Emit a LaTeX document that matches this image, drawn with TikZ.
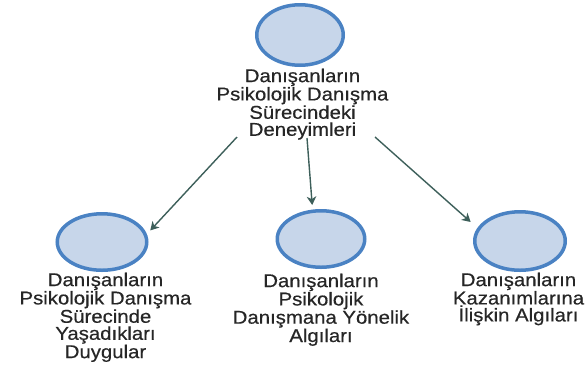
\documentclass[tikz,border=0pt]{standalone}
\usepackage{fontspec}
\setmainfont{Liberation Sans}[FakeStretch=1.1,FakeBold=0.5]
\usetikzlibrary{shapes.geometric,arrows.meta}
\definecolor{ringblue}{HTML}{4A82C3}
\definecolor{fillblue}{HTML}{C7D6EA}
\definecolor{linkgreen}{HTML}{3D5F5A}
\definecolor{labelgray}{HTML}{262626}
\begin{document}
\begin{tikzpicture}[x=1pt,y=-1pt,
  bubble/.style={ellipse, draw=ringblue, fill=fillblue, line width=3.5pt, inner sep=0pt},
  caption/.style={anchor=north, align=center, inner sep=0pt, text=labelgray,
    font=\fontsize{18.5}{17}\selectfont},
  link/.style={draw=linkgreen, line width=1.4pt,
    -{Stealth[length=8.5pt,width=9.5pt,inset=2.5pt]}}]
  \useasboundingbox (0,0) rectangle (585,365);

  % circles
  \node[bubble, minimum width=86.5pt, minimum height=60.5pt] (root) at (300,35) {};
  \node[bubble, minimum width=89.5pt, minimum height=56.5pt] (feel) at (102,242) {};
  \node[bubble, minimum width=87.5pt, minimum height=56.5pt] (coun) at (321,239) {};
  \node[bubble, minimum width=90.5pt, minimum height=58.5pt] (gain) at (520,241) {};

  % labels under the circles
  \node[caption] (rootlbl) at (302.5,68.5) {Danışanların\\Psikolojik Danışma\\Sürecindeki\\Deneyimleri};
  \node[caption] (feellbl) at (105.5,272.5) {Danışanların\\Psikolojik Danışma\\Sürecinde\\Yaşadıkları\\Duygular};
  \node[caption] (counlbl) at (321,273.5) {Danışanların\\Psikolojik\\Danışmana Yönelik\\Algıları};
  \node[caption] (gainlbl) at (518.5,272.5) {Danışanların\\Kazanımlarına\\İlişkin Algıları};

  % arrows leaving the top label
  \coordinate (outL) at (237,137);
  \coordinate (outM) at (307,138);
  \coordinate (outR) at (375,137);
  \draw[link, shorten >=5pt] (outL) -- (feel.10.6);
  \draw[link, shorten >=4.5pt] (outM) -- (coun.106.4);
  \draw[link, shorten >=9pt] (outR) -- (gain.163.3);
\end{tikzpicture}
\end{document}
